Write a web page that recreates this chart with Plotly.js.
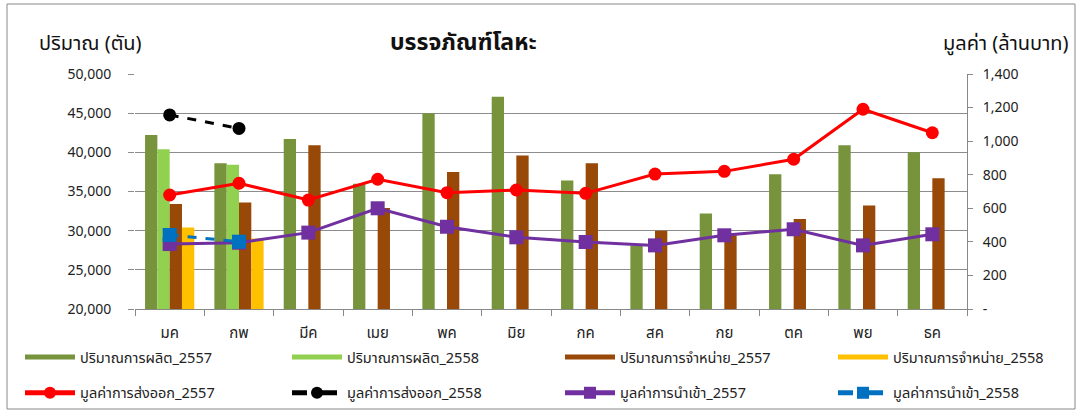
<!DOCTYPE html>
<html>
<head>
<meta charset="utf-8">
<script src="https://cdn.plot.ly/plotly-3.0.1.min.js"></script>
<style>
  html, body { margin: 0; padding: 0; background: #fff; }
  #chart { width: 1078px; height: 416px; }
</style>
</head>
<body>
<div id="chart"></div>
<script>
// ---- data ----
const months = ['มค','กพ','มีค','เมย','พค','มิย','กค','สค','กย','ตค','พย','ธค'];
const prod2557  = [42200, 38600, 41700, 36000, 45000, 47100, 36400, 28100, 32200, 37200, 40900, 40000];
const prod2558  = [40400, 38400, null, null, null, null, null, null, null, null, null, null];
const sales2557 = [33400, 33600, 40900, 32900, 37500, 39600, 38600, 30000, 29400, 31500, 33200, 36700];
const sales2558 = [30400, 29000, null, null, null, null, null, null, null, null, null, null];
const export2557 = [679, 749, 649, 773, 693, 709, 689, 804, 820, 892, 1190, 1050];
const export2558 = [1156, 1076, null, null, null, null, null, null, null, null, null, null];
const import2557 = [387, 395, 455, 600, 490, 427, 399, 379, 439, 475, 379, 445];
const import2558 = [441, 401, null, null, null, null, null, null, null, null, null, null];

const leftTickVals = [20000, 25000, 30000, 35000, 40000, 45000, 50000];
const rightTickVals = [0, 200, 400, 600, 800, 1000, 1200, 1400];
const rightTickText = ['-', '200', '400', '600', '800', '1,000', '1,200', '1,400'];

const names = {
  prod2557: 'ปริมาณการผลิต_2557',
  prod2558: 'ปริมาณการผลิต_2558',
  sales2557: 'ปริมาณการจำหน่าย_2557',
  sales2558: 'ปริมาณการจำหน่าย_2558',
  export2557: 'มูลค่าการส่งออก_2557',
  export2558: 'มูลค่าการส่งออก_2558',
  import2557: 'มูลค่าการนำเข้า_2557',
  import2558: 'มูลค่าการนำเข้า_2558'
};

const C = {
  prod2557: '#77933C', prod2558: '#92D050', sales2557: '#984807', sales2558: '#FFC000',
  export2557: '#FF0000', export2558: '#000000', import2557: '#7030A0', import2558: '#0070C0'
};

const FONT = 'Tahoma, "Noto Sans Thai", "Noto Sans", "DejaVu Sans", sans-serif';

// ---- geometry ----
const W = 1078, H = 416;
const M = { l: 135, r: 111, t: 74, b: 107, autoexpand: false };
const pw = W - M.l - M.r, ph = H - M.t - M.b;
const px2x = p => (p - M.l) / pw;
const py2y = p => (H - M.b - p) / ph;

function bar(key, vals) {
  return { type: 'bar', x: months, y: vals, name: names[key], marker: { color: C[key] },
           yaxis: 'y', showlegend: false };
}
function barLegend(key, leg) {
  return { type: 'scatter', mode: 'lines', x: [null], y: [null], name: names[key],
           line: { color: C[key], width: 9 }, legend: leg, legendgroup: key, showlegend: true, yaxis: 'y' };
}
function line(key, vals, symbol, size, dash, leg) {
  return { type: 'scatter', mode: 'lines+markers', x: months, y: vals, name: names[key],
           yaxis: 'y2', legend: leg, legendgroup: key, connectgaps: false,
           line: { color: C[key], width: 3, dash: dash },
           marker: { color: C[key], symbol: symbol, size: size } };
}

const data = [
  bar('prod2557', prod2557), bar('prod2558', prod2558),
  bar('sales2557', sales2557), bar('sales2558', sales2558),
  barLegend('prod2557', 'legend'), barLegend('prod2558', 'legend2'),
  barLegend('sales2557', 'legend3'), barLegend('sales2558', 'legend4'),
  line('export2557', export2557, 'circle', 13, 'solid', 'legend'),
  line('export2558', export2558, 'circle', 13, 'dash', 'legend2'),
  line('import2557', import2557, 'square', 14, 'solid', 'legend3'),
  line('import2558', import2558, 'square', 14, 'dash', 'legend4')
];

function legendAt(textStartPx) {
  return {
    orientation: 'v', xref: 'container', yref: 'container', xanchor: 'left', yanchor: 'middle',
    x: (textStartPx - 60) / W, y: (H - 375) / H,
    itemwidth: 50, itemsizing: 'constant', traceorder: 'grouped', tracegroupgap: 14,
    font: { family: FONT, size: 14.5, color: '#222' }, bgcolor: 'rgba(0,0,0,0)'
  };
}

const layout = {
  width: W, height: H,
  margin: M,
  paper_bgcolor: '#fff', plot_bgcolor: '#fff',
  font: { family: FONT, size: 14, color: '#222' },
  barmode: 'group', bargap: 0.29, bargroupgap: 0,
  showlegend: true,
  xaxis: {
    type: 'category', range: [-0.5, 11.5], autorange: false,
    showgrid: false, showline: true, linecolor: '#888', linewidth: 1,
    ticks: 'outside', tickson: 'boundaries', ticklen: 6, tickcolor: '#888', ticklabelstandoff: 10,
    tickfont: { family: FONT, size: 15, color: '#222' }, fixedrange: true, automargin: false
  },
  yaxis: {
    range: [20000, 50000], tickvals: leftTickVals, tickformat: ',d',
    showgrid: true, gridcolor: '#8c8c8c', gridwidth: 1, zeroline: false,
    showline: false, ticks: 'outside', ticklen: 6, tickcolor: '#8c8c8c', ticklabelstandoff: 14,
    tickfont: { family: FONT, size: 14, color: '#222' }, fixedrange: true, automargin: false
  },
  yaxis2: {
    overlaying: 'y', side: 'right', range: [0, 1400], tickvals: rightTickVals, ticktext: rightTickText,
    showgrid: false, zeroline: false, showline: true, linecolor: '#888', linewidth: 1,
    ticks: 'outside', ticklen: 5, tickcolor: '#888', ticklabelstandoff: 7,
    tickfont: { family: FONT, size: 14, color: '#222' }, fixedrange: true, automargin: false
  },
  legend: legendAt(80),
  legend2: legendAt(347),
  legend3: legendAt(620),
  legend4: legendAt(893),
  annotations: [
    { text: 'บรรจภัณฑ์โลหะ', xref: 'paper', yref: 'paper', x: px2x(463), y: py2y(43),
      xanchor: 'center', yanchor: 'middle', showarrow: false,
      font: { family: FONT, size: 23, color: '#111', weight: 'bold' } },
    { text: 'ปริมาณ (ตัน)', xref: 'paper', yref: 'paper', x: px2x(37), y: py2y(44),
      xanchor: 'left', yanchor: 'middle', showarrow: false,
      font: { family: FONT, size: 20, color: '#111' } },
    { text: 'มูลค่า (ล้านบาท)', xref: 'paper', yref: 'paper', x: px2x(1070), y: py2y(44),
      xanchor: 'right', yanchor: 'middle', showarrow: false,
      font: { family: FONT, size: 20, color: '#111' } }
  ],
  shapes: [
    { type: 'rect', xref: 'paper', yref: 'paper', x0: px2x(7), x1: px2x(1075), y0: py2y(409), y1: py2y(4),
      line: { color: '#888', width: 1 }, fillcolor: 'rgba(0,0,0,0)', layer: 'below' }
  ]
};

Plotly.newPlot('chart', data, layout, { displayModeBar: false, staticPlot: true });
</script>
</body>
</html>
